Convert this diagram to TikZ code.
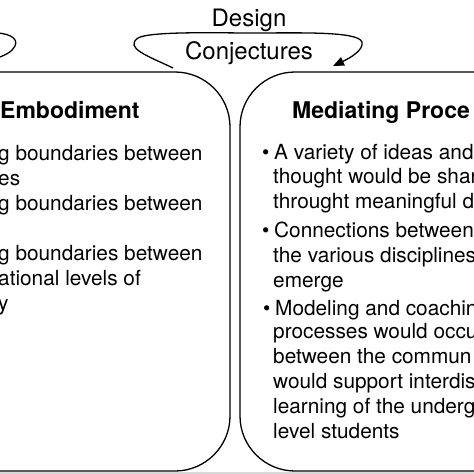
\documentclass[tikz,border=0pt]{standalone}
\usepackage{fontspec}
\setmainfont{TeX Gyre Heros}
\usepackage{tikz}
\usetikzlibrary{arrows.meta}

\begin{document}
\begin{tikzpicture}[
  x=1pt, y=-1pt,
  >={Triangle[length=11pt, width=9pt]},
  panel/.style={line width=1.3pt, rounded corners=55pt},
  loopline/.style={line width=1.3pt},
  bodyline/.style={anchor=base west, inner sep=0pt, font=\fontsize{20.8}{25}\selectfont},
  headline/.style={anchor=base west, inner sep=0pt, font=\fontsize{23}{27}\selectfont\bfseries},
  conjline/.style={anchor=base, inner sep=0pt, font=\fontsize{24}{28}\selectfont},
]
  \useasboundingbox (0,0) rectangle (474,474);
  \clip (0,0) rectangle (474,474);

  % shadow strip under the panels
  \fill[gray!30] (-10,472) rectangle (484,480);

  % the two panels
  \draw[panel] (-80,72) -- (230,72) -- (230,471) -- (-80,471);
  \draw[panel] (560,72) -- (240,72) -- (240,471) -- (560,471);

  % design conjectures loop
  \node[conjline] (design) at (249,26) {Design};
  \node[conjline] (conj) at (249,59) {Conjectures};
  \coordinate (loopstart) at (173,68);
  \coordinate (looptip) at (333,66);
  \draw[loopline, ->] (loopstart) .. controls (148,56) and (124,48) .. (138,38)
       .. controls (150,31) and (220,33) .. (250,33)
       .. controls (300,33) and (358,31) .. (362,42)
       .. controls (364,50) and (350,58) .. (looptip);

  % end of the neighbouring loop (cut off)
  \draw[loopline] (-10,33) .. controls (8,32) and (19,38) .. (15,46)
       .. controls (12,52) and (6,55) .. (-8,60);

  % left panel
  \node[headline] (embhead) at (0,118) {Embodiment};
  \node[bodyline] (l1) at (-2,160) {g boundaries between};
  \node[bodyline] (l2) at (-2,185) {es};
  \node[bodyline] (l3) at (-2,210) {g boundaries between};
  \node[bodyline] (l4) at (-2,260) {g boundaries between};
  \node[bodyline] (l5) at (-2,285) {ational levels of};
  \node[bodyline] (l6) at (-2,310) {y};

  % right panel
  \node[headline] (medhead) at (292,118) {Mediating Proce};
  \node[bodyline] (b1) at (262,159) {•};
  \node[bodyline] (r1) at (274,159) {A variety of ideas and};
  \node[bodyline] (r2) at (273,183) {thought would be shar};
  \node[bodyline] (r3) at (273,208) {throught meaningful d};
  \node[bodyline] (b2) at (262,237) {•};
  \node[bodyline] (r4) at (274,237) {Connections between};
  \node[bodyline] (r5) at (273,262) {the various disciplines};
  \node[bodyline] (r6) at (273,287) {emerge};
  \node[bodyline] (b3) at (263,315) {•};
  \node[bodyline] (r7) at (275,315) {Modeling and coachin};
  \node[bodyline] (r8) at (273,338) {processes would occu};
  \node[bodyline] (r9) at (273,363) {between the commun};
  \node[bodyline] (r10) at (273,388) {would support interdis};
  \node[bodyline] (r11) at (273,413) {learning of the underg};
  \node[bodyline] (r12) at (273,438) {level students};
\end{tikzpicture}
\end{document}
